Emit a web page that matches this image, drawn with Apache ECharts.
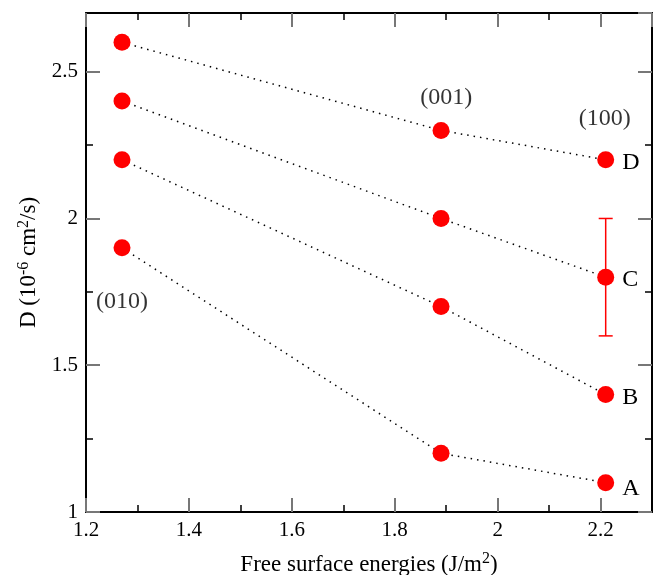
<!DOCTYPE html>
<html>
<head>
<meta charset="utf-8">
<script src="https://cdn.jsdelivr.net/npm/echarts@6/dist/echarts.min.js"></script>
<style>
  html, body { margin: 0; padding: 0; background: #fff; }
  #chart { width: 653px; height: 575px; }
</style>
</head>
<body>
<div id="chart"></div>
<script>
// Surface energies of the three facets (J/m^2)
const energies = [1.27, 1.89, 2.21];
// Diffusion coefficients (10^-6 cm^2/s) for each set
const seriesA = [1.9, 1.2, 1.1];
const seriesB = [2.2, 1.7, 1.4];
const seriesC = [2.4, 2.0, 1.8];
const seriesD = [2.6, 2.3, 2.2];
const seriesNames = ['A', 'B', 'C', 'D'];
// Error bar on set C at the (100) facet: [x, low, high]
const errorBars = [[2.21, 1.6, 2.0]];
// Facet annotations: [x, y, text]
const facetLabels = [
  [1.27, 1.715, '(010)'],
  [1.90, 2.41, '(001)'],
  [2.208, 2.34, '(100)']
];

const FONT = '"Liberation Serif", "Times New Roman", serif';
const X_MIN = 1.2, X_MAX = 2.3, Y_MIN = 1, Y_MAX = 2.7;

function majorAxis(pos, isX, withLabels) {
  const ax = {
    type: 'value',
    position: pos,
    min: isX ? X_MIN : Y_MIN,
    max: isX ? X_MAX : Y_MAX,
    interval: isX ? 0.2 : 0.5,
    splitLine: { show: false },
    axisLine: { show: true, onZero: false, lineStyle: { color: '#000', width: 2 } },
    axisTick: { show: true, inside: true, length: 14, lineStyle: { color: '#777', width: 2 } },
    axisLabel: { show: false },
    z: 3
  };
  if (withLabels) {
    ax.axisLabel = {
      show: true,
      fontFamily: FONT,
      fontSize: 21,
      color: '#000',
      margin: 8,
      showMaxLabel: false,
      formatter: function (v) {
        const step = isX ? 0.2 : 0.5;
        const base = isX ? X_MIN : Y_MIN;
        const k = (v - base) / step;
        if (Math.abs(k - Math.round(k)) > 1e-6) return '';
        return String(+v.toFixed(2));
      }
    };
  }
  return ax;
}
function minorAxis(pos, isX) {
  return {
    type: 'value',
    position: pos,
    min: isX ? X_MIN : Y_MIN,
    max: isX ? X_MAX : Y_MAX,
    interval: isX ? 0.1 : 0.25,
    splitLine: { show: false },
    axisLine: { show: false, onZero: false },
    axisTick: { show: true, inside: true, length: 7, lineStyle: { color: '#000', width: 1.5 } },
    axisLabel: { show: false },
    z: 2
  };
}

const titleRich = {
  n: { fontFamily: FONT, fontSize: 23, color: '#000' },
  s: { fontFamily: FONT, fontSize: 16, color: '#000', verticalAlign: 'top', padding: [0, 0, 12, 0] }
};

const xBottom = majorAxis('bottom', true, true);
xBottom.name = '{n|Free surface energies (J/m}{s|2}{n|)}';
xBottom.nameLocation = 'middle';
xBottom.nameGap = 39;
xBottom.nameTextStyle = { rich: titleRich };

const yLeft = majorAxis('left', false, true);
yLeft.name = '{n|D (10}{s|-6}{n| cm}{s|2}{n|/s)}';
yLeft.nameLocation = 'middle';
yLeft.nameGap = 39;
yLeft.nameRotate = 90;
yLeft.nameTextStyle = { rich: titleRich };

const lineSets = [seriesA, seriesB, seriesC, seriesD].map(function (vals, i) {
  return {
    type: 'line',
    name: seriesNames[i],
    xAxisIndex: 0,
    yAxisIndex: 0,
    data: vals.map(function (v, j) { return [energies[j], v]; }),
    symbol: 'circle',
    symbolSize: 17,
    itemStyle: { color: '#ff0000' },
    lineStyle: { color: '#000', width: 1.5, type: [1.5, 5] },
    z: 4,
    label: {
      show: true,
      position: 'right',
      distance: 8,
      fontFamily: FONT,
      fontSize: 24,
      color: '#000',
      offset: [0, i === 0 ? 6 : 3],
      formatter: function (p) {
        return p.dataIndex === energies.length - 1 ? seriesNames[i] : '';
      }
    },
    animation: false
  };
});

const option = {
  animation: false,
  grid: { left: 86, top: 13, right: 1, bottom: 63, containLabel: false, outerBoundsMode: 'none' },
  xAxis: [xBottom, minorAxis('bottom', true), majorAxis('top', true, false), minorAxis('top', true)],
  yAxis: [yLeft, minorAxis('left', false), majorAxis('right', false, false), minorAxis('right', false)],
  series: lineSets.concat([
    {
      type: 'custom',
      xAxisIndex: 0,
      yAxisIndex: 0,
      data: errorBars,
      z: 3,
      renderItem: function (params, api) {
        const x = api.value(0);
        const lo = api.coord([x, api.value(1)]);
        const hi = api.coord([x, api.value(2)]);
        const half = 7;
        const style = { stroke: '#ff0000', lineWidth: 1.5 };
        return {
          type: 'group',
          children: [
            { type: 'line', shape: { x1: lo[0], y1: lo[1], x2: hi[0], y2: hi[1] }, style: style },
            { type: 'line', shape: { x1: lo[0] - half, y1: lo[1], x2: lo[0] + half, y2: lo[1] }, style: style },
            { type: 'line', shape: { x1: hi[0] - half, y1: hi[1], x2: hi[0] + half, y2: hi[1] }, style: style }
          ]
        };
      }
    },
    {
      type: 'scatter',
      xAxisIndex: 0,
      yAxisIndex: 0,
      data: facetLabels.map(function (d) { return [d[0], d[1], d[2]]; }),
      symbolSize: 0,
      silent: true,
      label: {
        show: true,
        position: 'inside',
        fontFamily: FONT,
        fontSize: 24,
        color: '#000',
        formatter: function (p) { return p.value[2]; }
      }
    }
  ])
};

const chart = echarts.init(document.getElementById('chart'), null, { renderer: 'canvas' });
chart.setOption(option);
</script>
</body>
</html>
